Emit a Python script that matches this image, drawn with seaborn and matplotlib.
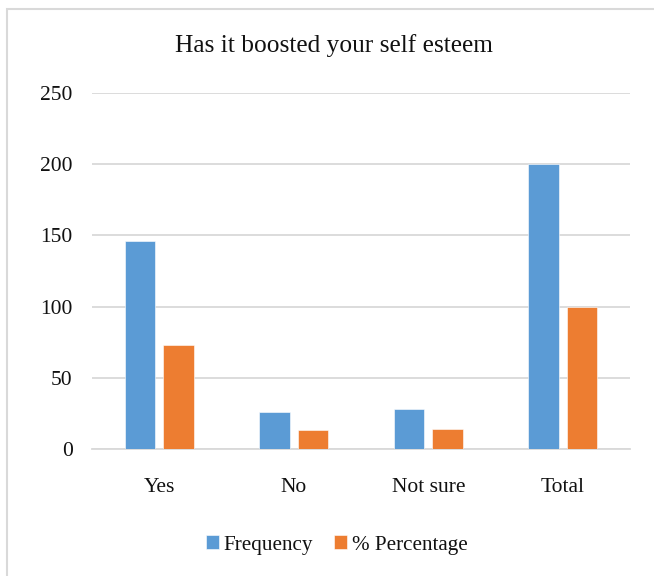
import matplotlib
matplotlib.use("Agg")
import matplotlib.pyplot as plt
import seaborn as sns
import pandas as pd
from matplotlib.patches import Rectangle

categories = ["Yes", "No", "Not sure", "Total"]
frequency = [146, 26, 28, 200]
percentage = [73, 13, 14, 100]
series_names = ["Frequency", "% Percentage"]
y_ticks = [0, 50, 100, 150, 200, 250]
title = "Has it boosted your self esteem"

df = pd.DataFrame({
    "Category": categories * 2,
    "Series": [series_names[0]] * len(categories) + [series_names[1]] * len(categories),
    "Value": frequency + percentage,
})

sns.set_theme(style="white")
plt.rcParams["font.family"] = ["Liberation Serif", "DejaVu Serif"]

fig = plt.figure(figsize=(6.54, 5.76), dpi=100)
ax = fig.add_axes([92 / 654, 1 - 449 / 576, 538 / 654, 356 / 576])

sns.barplot(data=df, x="Category", y="Value", hue="Series",
            palette=["#5B9BD5", "#ED7D31"], saturation=1, width=0.571, gap=0.216,
            edgecolor="white", linewidth=0.4, ax=ax, legend=True, zorder=3)

ax.set_ylim(0, 250)
ax.set_xlim(-0.5, 3.5)
ax.set_yticks(y_ticks)
ax.set_yticklabels([str(t) for t in y_ticks])
ax.yaxis.grid(True, color="#d9d9d9", linewidth=1.3, zorder=0)
ax.set_axisbelow(True)
for s in ["left", "right", "top"]:
    ax.spines[s].set_visible(False)
ax.spines["bottom"].set_color("#d9d9d9")
ax.spines["bottom"].set_linewidth(1.3)
ax.tick_params(axis="y", length=0, pad=14, labelsize=15.5, labelcolor="#111111")
ax.tick_params(axis="x", length=0, pad=21, labelsize=15.5, labelcolor="#111111")
ax.set_xlabel("")
ax.set_ylabel("")

fig.text(334 / 654, 1 - 46 / 576, title, ha="center", va="center",
         fontsize=18.3, color="#111111")

handles, labels = ax.get_legend_handles_labels()
ax.legend_.remove()
fig.legend(handles, labels, loc="center", bbox_to_anchor=(337 / 654, 1 - 545 / 576),
           ncol=2, frameon=False, fontsize=15.2, handlelength=0.6, handleheight=0.6,
           handletextpad=0.25, columnspacing=1.0, labelcolor="#111111")

fig.patches.append(Rectangle((7 / 654, -0.05), 1.2, (1 - 9 / 576) + 0.05,
                             transform=fig.transFigure, fill=False,
                             edgecolor="#d9d9d9", linewidth=1.5))

fig.savefig("out.png", dpi=100)
